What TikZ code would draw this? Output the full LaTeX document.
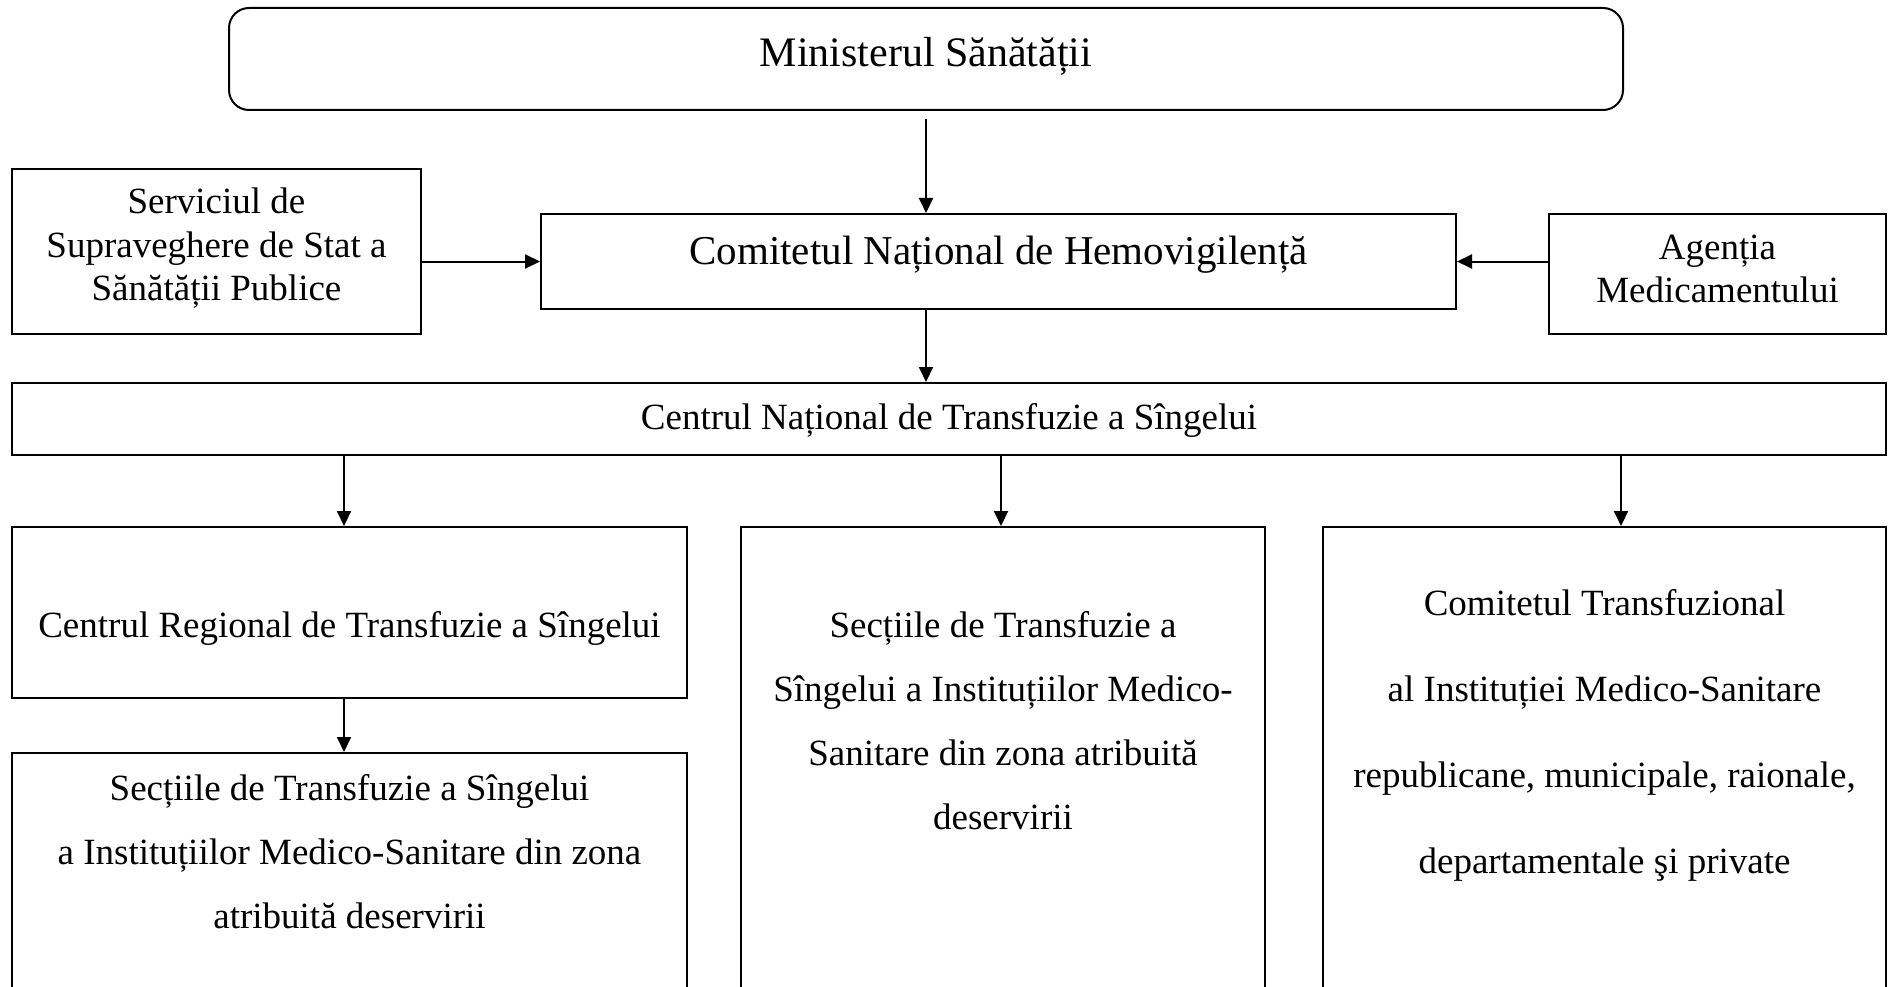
\documentclass[tikz,border=0pt]{standalone}
\usepackage{fontspec}
\setmainfont{Liberation Serif}
\usetikzlibrary{arrows.meta}
\begin{document}
\begin{tikzpicture}[x=1pt,y=-1pt,
  box/.style={draw, line width=2pt, rectangle, inner sep=0pt},
  conn/.style={line width=2pt, -{Triangle[length=15pt,width=14pt]}},
  txt/.style={anchor=base, inner sep=0pt},
  fA/.style={font=\fontsize{42}{48}\selectfont},
  fB/.style={font=\fontsize{41}{47}\selectfont},
  fC/.style={font=\fontsize{37}{43}\selectfont}]
\useasboundingbox (0,0) rectangle (1892,987);
\clip (0,0) rectangle (1892,987);
% boxes
\node[box, rounded corners=20pt, minimum width=1394pt, minimum height=102pt] (min) at (926,59) {};
\node[box, minimum width=915pt, minimum height=95pt] (cnh) at (998.5,261.5) {};
\node[box, minimum width=409pt, minimum height=165pt] (serv) at (216.5,251.5) {};
\node[box, minimum width=337pt, minimum height=120pt] (agm) at (1717.5,274) {};
\node[box, minimum width=1874pt, minimum height=72pt] (cnts) at (949,419) {};
\node[box, minimum width=675pt, minimum height=171pt] (crts) at (349.5,612.5) {};
\node[box, minimum width=675pt, minimum height=257pt] (stsL) at (349.5,881.5) {};
\node[box, minimum width=524pt, minimum height=483pt] (stsM) at (1003,768.5) {};
\node[box, minimum width=563pt, minimum height=483pt] (ctr) at (1604.5,768.5) {};
% texts
\node[txt,fA] (mint) at (926,67) {Ministerul Sănătății};
\node[txt,fB] (cnht) at (998.5,264) {Comitetul Național de Hemovigilență};
\node[txt,fC] (servt1) at (216.5,214) {Serviciul de};
\node[txt,fC] (servt2) at (216.5,257) {Supraveghere de Stat a};
\node[txt,fC] (servt3) at (216.5,300) {Sănătății Publice};
\node[txt,fC] (agmt1) at (1717.5,259) {Agenția};
\node[txt,fC] (agmt2) at (1717.5,302) {Medicamentului};
\node[txt,fC] (cntst) at (949,429) {Centrul Național de Transfuzie a Sîngelui};
\node[txt,fC] (crtst) at (349.5,637) {Centrul Regional de Transfuzie a Sîngelui};
\node[txt,fC] (stsLt1) at (349.5,800) {Secțiile de Transfuzie a Sîngelui};
\node[txt,fC] (stsLt2) at (349.5,864) {a Instituțiilor Medico-Sanitare din zona};
\node[txt,fC] (stsLt3) at (349.5,928) {atribuită deservirii};
\node[txt,fC] (stsMt1) at (1003,637) {Secțiile de Transfuzie a};
\node[txt,fC] (stsMt2) at (1003,701) {Sîngelui a Instituțiilor Medico-};
\node[txt,fC] (stsMt3) at (1003,765) {Sanitare din zona atribuită};
\node[txt,fC] (stsMt4) at (1003,829) {deservirii};
\node[txt,fC] (ctrt1) at (1604.5,615) {Comitetul Transfuzional};
\node[txt,fC] (ctrt2) at (1604.5,701) {al Instituției Medico-Sanitare};
\node[txt,fC] (ctrt3) at (1604.5,787) {republicane, municipale, raionale,};
\node[txt,fC] (ctrt4) at (1604.5,873) {departamentale şi private};
% connectors
\coordinate (xl) at (344,0);
\coordinate (xm) at (1001,0);
\coordinate (xr) at (1621,0);
\draw[conn, shorten <=8pt] (min.south) -- (min.south |- cnh.north);
\draw[conn] (min.south |- cnh.south) -- (min.south |- cnts.north);
\draw[conn] (serv.east |- cnh.west) -- (cnh.west);
\draw[conn] (agm.west |- cnh.east) -- (cnh.east);
\draw[conn] (cnts.south -| xl) -- (crts.north -| xl);
\draw[conn] (cnts.south -| xm) -- (stsM.north -| xm);
\draw[conn] (cnts.south -| xr) -- (ctr.north -| xr);
\draw[conn] (crts.south -| xl) -- (stsL.north -| xl);
\end{tikzpicture}
\end{document}
